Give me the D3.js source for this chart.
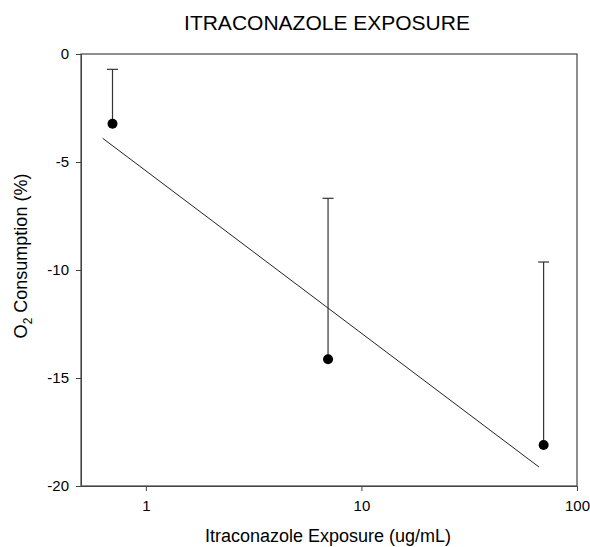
<!DOCTYPE html>
<html><head><meta charset="utf-8">
<script src="https://cdn.jsdelivr.net/npm/d3@7"></script>
<style>body{margin:0;background:#fff}svg{display:block}text{font-family:"Liberation Sans",Arial,sans-serif;fill:#000}</style>
</head><body>
<script>
const exposure = [0.7, 7, 70];
const consumption = [-3.23, -14.13, -18.1];
const errorUpper = [2.52, 7.45, 8.47];
const fitX = [0.63, 66.6];
const fitY = [-3.9, -19.12];
const xTicks = [1, 10, 100];
const yTicks = [0, -5, -10, -15, -20];

const W = 590, H = 547;
const m = {left: 81, right: 13, top: 54, bottom: 61};
const svg = d3.select("body").append("svg").attr("width", W).attr("height", H);
const x = d3.scaleLog().domain([0.5, 100]).range([m.left, W - m.right]);
const y = d3.scaleLinear().domain([-20, 0]).range([H - m.bottom, m.top]);

svg.append("text").attr("x", 327).attr("y", 30).attr("text-anchor", "middle")
  .style("font-size", "21px").text("ITRACONAZOLE EXPOSURE");

// frame
svg.append("rect").attr("x", m.left).attr("y", m.top)
  .attr("width", W - m.right - m.left).attr("height", H - m.bottom - m.top)
  .attr("fill", "none").attr("stroke", "#444").attr("stroke-width", 1.2);

const xa = svg.append("g").attr("transform", `translate(0,${H - m.bottom})`)
  .call(d3.axisBottom(x).tickValues(xTicks).tickFormat(d3.format("d")).tickSize(5).tickSizeOuter(0).tickPadding(9));
const ya = svg.append("g").attr("transform", `translate(${m.left},0)`)
  .call(d3.axisLeft(y).tickValues(yTicks).tickFormat(d => d).tickSize(5).tickSizeOuter(0).tickPadding(7));
[xa, ya].forEach(a => {
  a.selectAll("text").style("font-size", "15px").style("font-family", "Liberation Sans, Arial, sans-serif").attr("fill", "#000");
  a.selectAll("line").attr("stroke", "#444");
  a.select(".domain").attr("stroke", "#444");
});

// fit line
svg.append("line").attr("x1", x(fitX[0])).attr("y1", y(fitY[0]))
  .attr("x2", x(fitX[1])).attr("y2", y(fitY[1])).attr("stroke", "#222").attr("stroke-width", 1);

// error bars
const g = svg.append("g");
exposure.forEach((e, i) => {
  const cx = x(e), top = y(consumption[i] + errorUpper[i]);
  g.append("line").attr("x1", cx).attr("x2", cx).attr("y1", y(consumption[i])).attr("y2", top)
    .attr("stroke", "#333").attr("stroke-width", 1.2);
  g.append("line").attr("x1", cx - 5.5).attr("x2", cx + 5.5).attr("y1", top).attr("y2", top)
    .attr("stroke", "#333").attr("stroke-width", 1.2);
  g.append("circle").attr("cx", cx).attr("cy", y(consumption[i])).attr("r", 5).attr("fill", "#000");
});

svg.append("text").attr("x", 328).attr("y", 542).attr("text-anchor", "middle")
  .style("font-size", "18px").text("Itraconazole Exposure (ug/mL)");

const yl = svg.append("text").attr("transform", `translate(27,256) rotate(-90)`)
  .attr("text-anchor", "middle").style("font-size", "18px");
yl.append("tspan").text("O");
yl.append("tspan").attr("dy", 5).style("font-size", "12px").text("2");
yl.append("tspan").attr("dy", -5).text(" Consumption (%)");
</script>
</body></html>
